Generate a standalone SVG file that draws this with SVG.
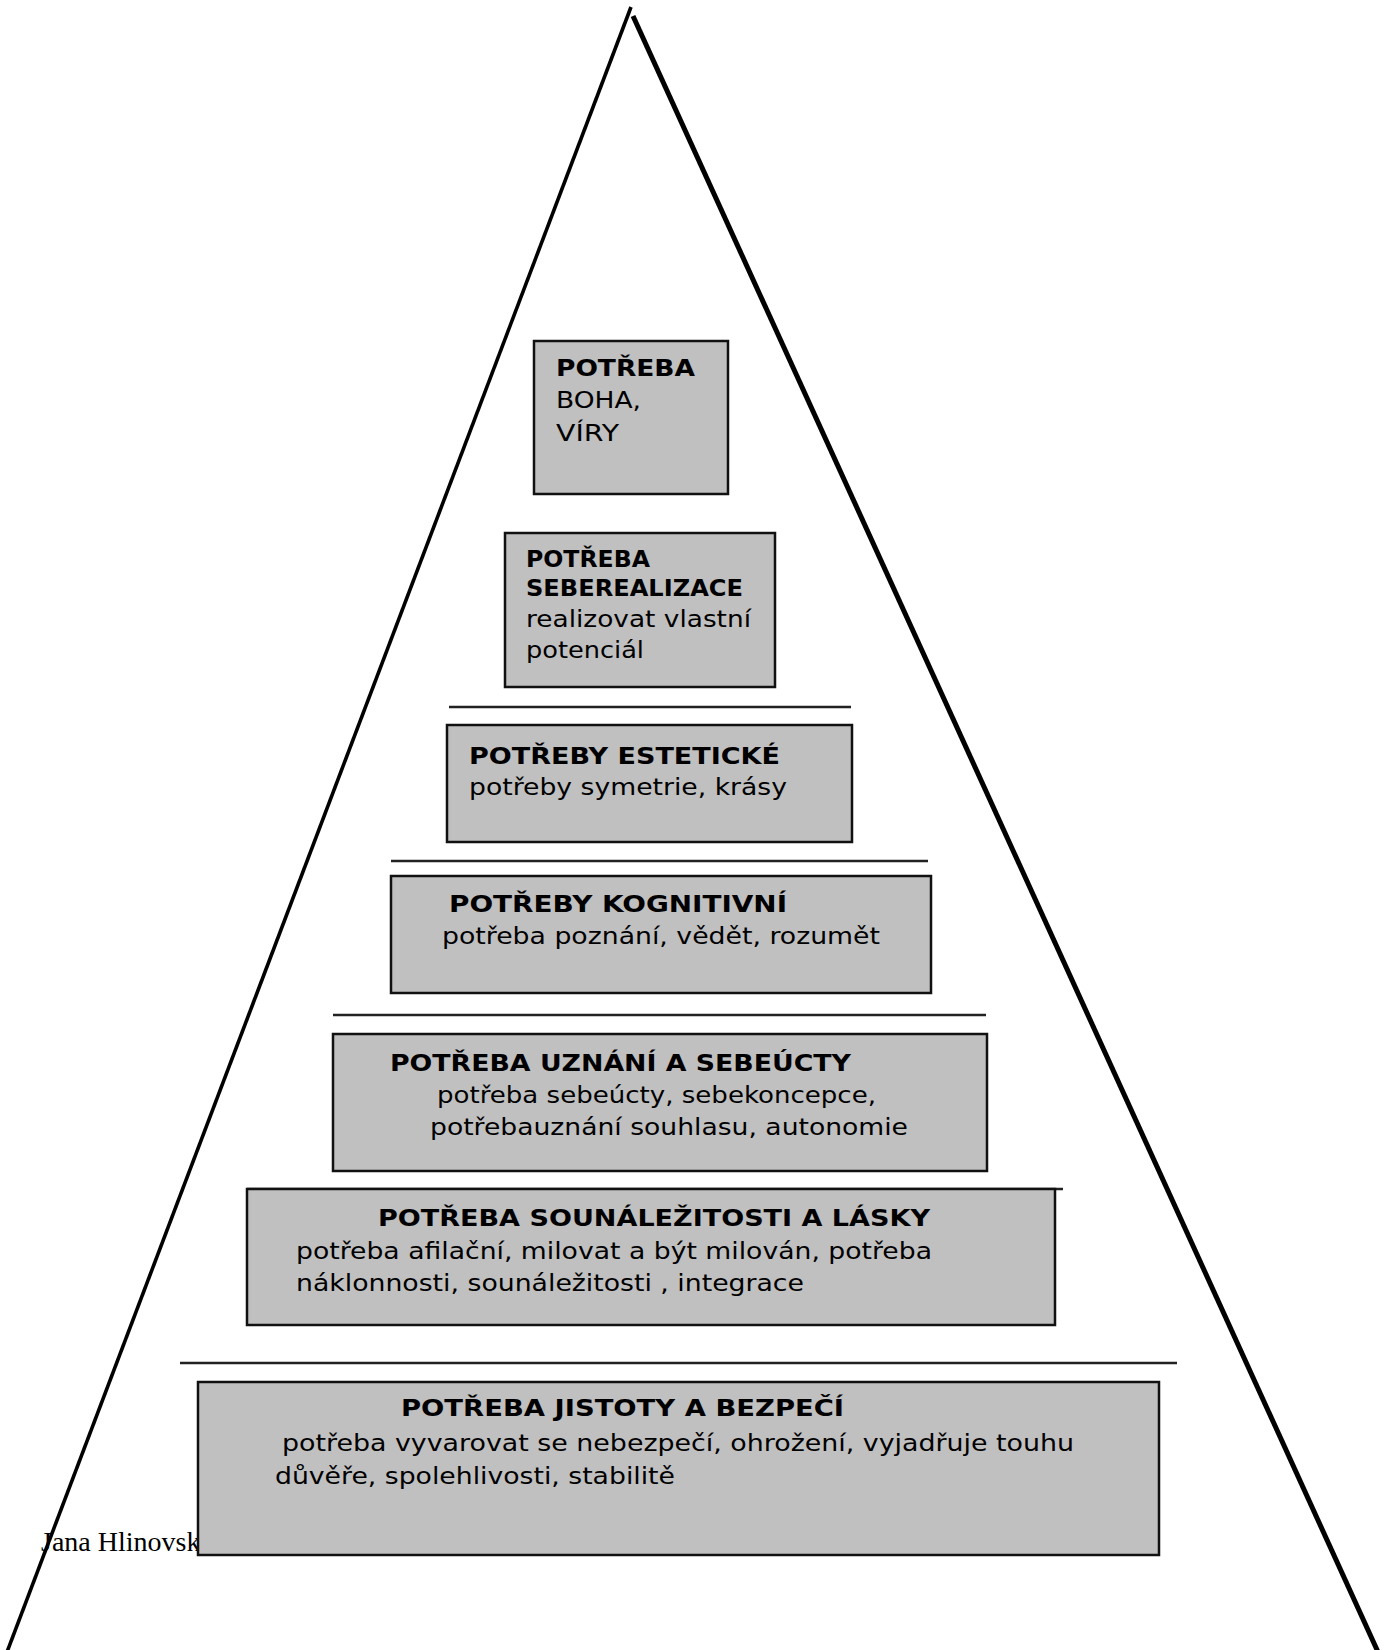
<svg xmlns="http://www.w3.org/2000/svg" width="1392" height="1650" viewBox="0 0 1392 1650">
<style>
.box{fill:#c0c0c0;stroke:#111;stroke-width:2.5}
.sep{stroke:#222;stroke-width:2.5}
.edge{stroke:#000;fill:none}
text{font-family:"DejaVu Sans","Verdana",sans-serif;font-size:23.5px;fill:#000}
.b{font-weight:bold}
.sig{font-family:"Liberation Serif","Times New Roman",serif;font-size:28px}
</style>
<rect width="1392" height="1650" fill="#fff"/>
<g id="pyramid">
<line class="edge" x1="631" y1="7" x2="7" y2="1652" stroke-width="3.6"/>
<line class="edge" x1="633" y1="16" x2="1378" y2="1652" stroke-width="5"/>
</g>
<text class="sig" x="41" y="1551">Jana Hlinovská</text>
<g id="separators">
<line class="sep" x1="449" y1="707" x2="851" y2="707"/>
<line class="sep" x1="391" y1="861" x2="928" y2="861"/>
<line class="sep" x1="333" y1="1015" x2="986" y2="1015"/>
<line class="sep" x1="247" y1="1189" x2="1063" y2="1189"/>
<line class="sep" x1="180" y1="1363" x2="1177" y2="1363"/>
</g>
<g id="n1">
<rect class="box" x="534" y="341" width="194" height="153"/>
<text class="b" x="556" y="376" textLength="139" lengthAdjust="spacingAndGlyphs">POTŘEBA</text>
<text x="556" y="408" textLength="85" lengthAdjust="spacingAndGlyphs">BOHA,</text>
<text x="556" y="441" textLength="63" lengthAdjust="spacingAndGlyphs">VÍRY</text>
</g>
<g id="n2">
<rect class="box" x="505" y="533" width="270" height="154"/>
<text class="b" x="526" y="567" textLength="124" lengthAdjust="spacingAndGlyphs">POTŘEBA</text>
<text class="b" x="526" y="596" textLength="217" lengthAdjust="spacingAndGlyphs">SEBEREALIZACE</text>
<text x="526" y="627" textLength="225" lengthAdjust="spacingAndGlyphs">realizovat vlastní</text>
<text x="526" y="658" textLength="118" lengthAdjust="spacingAndGlyphs">potenciál</text>
</g>
<g id="n3">
<rect class="box" x="447" y="725" width="405" height="117"/>
<text class="b" x="469" y="764" textLength="311" lengthAdjust="spacingAndGlyphs">POTŘEBY ESTETICKÉ</text>
<text x="469" y="795" textLength="318" lengthAdjust="spacingAndGlyphs">potřeby symetrie, krásy</text>
</g>
<g id="n4">
<rect class="box" x="391" y="876" width="540" height="117"/>
<text class="b" x="449" y="912" textLength="338" lengthAdjust="spacingAndGlyphs">POTŘEBY KOGNITIVNÍ</text>
<text x="442" y="944" textLength="438" lengthAdjust="spacingAndGlyphs">potřeba poznání, vědět, rozumět</text>
</g>
<g id="n5">
<rect class="box" x="333" y="1034" width="654" height="137"/>
<text class="b" x="390" y="1071" textLength="461" lengthAdjust="spacingAndGlyphs">POTŘEBA UZNÁNÍ A SEBEÚCTY</text>
<text x="437" y="1103" textLength="439" lengthAdjust="spacingAndGlyphs">potřeba sebeúcty, sebekoncepce,</text>
<text x="430" y="1135" textLength="478" lengthAdjust="spacingAndGlyphs">potřebauznání souhlasu, autonomie</text>
</g>
<g id="n6">
<rect class="box" x="247" y="1189" width="808" height="136"/>
<text class="b" x="378" y="1226" textLength="552" lengthAdjust="spacingAndGlyphs">POTŘEBA SOUNÁLEŽITOSTI A LÁSKY</text>
<text x="296" y="1259" textLength="636" lengthAdjust="spacingAndGlyphs">potřeba afilační, milovat a být milován, potřeba</text>
<text x="296" y="1291" textLength="508" lengthAdjust="spacingAndGlyphs">náklonnosti, sounáležitosti , integrace</text>
</g>
<g id="n7">
<rect class="box" x="198" y="1382" width="961" height="173"/>
<text class="b" x="401" y="1416" textLength="443" lengthAdjust="spacingAndGlyphs">POTŘEBA JISTOTY A BEZPEČÍ</text>
<text x="282" y="1451" textLength="792" lengthAdjust="spacingAndGlyphs">potřeba vyvarovat se nebezpečí, ohrožení, vyjadřuje touhu</text>
<text x="275" y="1484" textLength="400" lengthAdjust="spacingAndGlyphs">důvěře, spolehlivosti, stabilitě</text>
</g>
</svg>
